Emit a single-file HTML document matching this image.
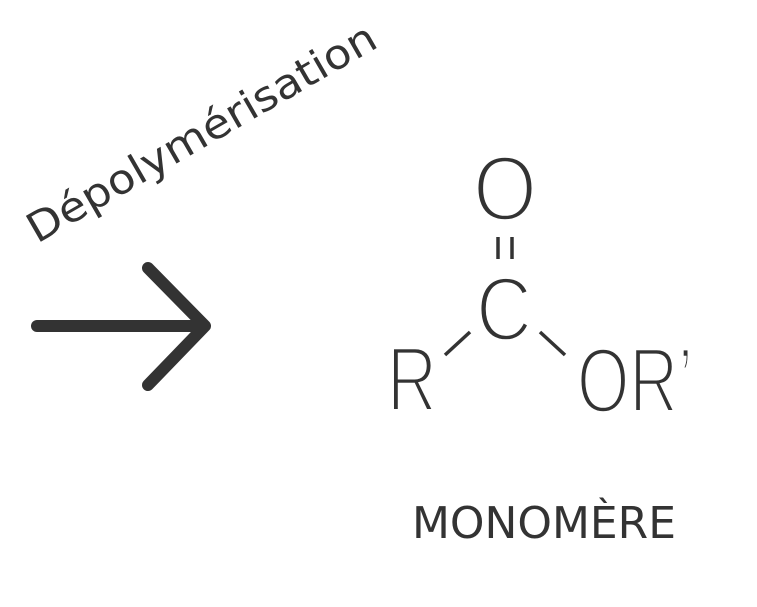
<!DOCTYPE html>
<html><head><meta charset="utf-8"><style>body{margin:0;background:#fff}</style></head><body>
<svg width="757" height="602" viewBox="0 0 757 602" xmlns="http://www.w3.org/2000/svg">
<g fill="#333" font-family="DejaVu Sans, Liberation Sans, sans-serif">
<text x="0" y="0" font-size="41" transform="translate(37,244) rotate(-30)" textLength="396" lengthAdjust="spacingAndGlyphs">Dépolymérisation</text>
</g>
<g stroke="#333" stroke-width="12" stroke-linecap="round" fill="none">
<line x1="37" y1="326" x2="203" y2="326"/>
<polyline points="148,268 205,326 148,385" stroke-linejoin="round"/>
</g>
<g stroke="#333" stroke-width="3.5" fill="none">
<line x1="498" y1="237" x2="498" y2="259"/>
<line x1="512" y1="237" x2="512" y2="259"/>
<line x1="445" y1="355" x2="470" y2="332"/>
<line x1="540" y1="332" x2="565" y2="355"/>
</g>
<g fill="#333" font-family="Liberation Sans, sans-serif" stroke="#fff" stroke-width="3.5">
<text x="505" y="220" font-size="92" text-anchor="middle" textLength="64" lengthAdjust="spacingAndGlyphs">O</text>
<text x="504" y="340" font-size="90" text-anchor="middle" textLength="56" lengthAdjust="spacingAndGlyphs">C</text>
<text x="387" y="411" font-size="92" textLength="50" lengthAdjust="spacingAndGlyphs">R</text>
<text x="577" y="412" font-size="92" textLength="116" lengthAdjust="spacingAndGlyphs">OR’</text>
</g>
<text x="412" y="538" font-size="44" fill="#333" font-family="DejaVu Sans, Liberation Sans, sans-serif" textLength="264" lengthAdjust="spacingAndGlyphs">MONOMÈRE</text>
</svg>
</body></html>
